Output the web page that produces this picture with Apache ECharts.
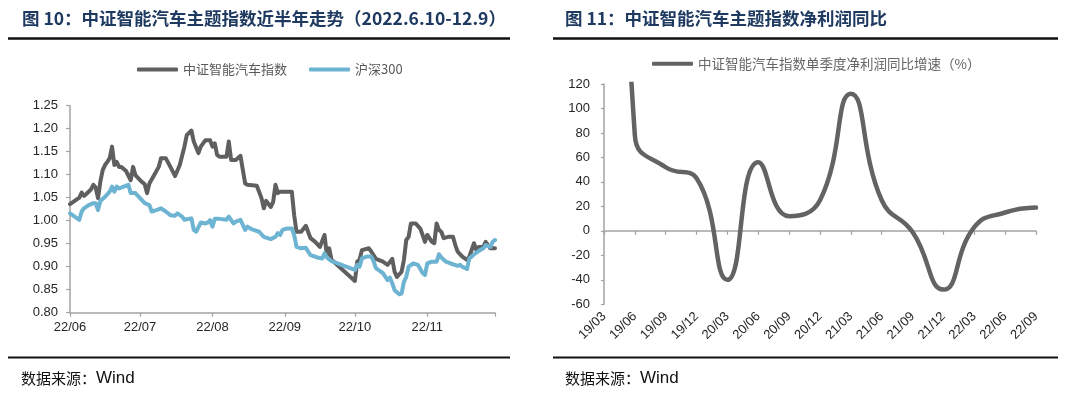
<!DOCTYPE html>
<html><head><meta charset="utf-8">
<script src="https://cdn.jsdelivr.net/npm/echarts@6/dist/echarts.min.js"></script>
<style>html,body{margin:0;padding:0;background:#fff}#c{width:1080px;height:396px}</style>
</head><body><div id="c"></div>
<script>
// ---- Figure 10: daily index levels (2022), month-day of each reading ----
const idxDates = ['06-10','06-12','06-14','06-15','06-16','06-17','06-19','06-20','06-21','06-22','06-23','06-24','06-25','06-26','06-27','06-28','06-29','06-30','07-01','07-02','07-04','07-06','07-07','07-08','07-10','07-12','07-13','07-14','07-16','07-18','07-19','07-21','07-23','07-25','07-27','07-29','07-30','08-01','08-02','08-04','08-05','08-07','08-09','08-10','08-11','08-12','08-13','08-16','08-17','08-18','08-20','08-22','08-24','08-25','08-29','08-31','09-01','09-02','09-04','09-05','09-06','09-07','09-08','09-13','09-14','09-15','09-17','09-19','09-21','09-23','09-25','09-27','09-28','09-29','09-30','10-10','10-11','10-12','10-13','10-16','10-17','10-19','10-22','10-24','10-26','10-27','10-28','10-30','10-31','11-01','11-02','11-03','11-05','11-07','11-08','11-09','11-10','11-12','11-13','11-14','11-15','11-16','11-17','11-19','11-21','11-22','11-23','11-25','11-27','11-28','11-30','12-01','12-02','12-04','12-05','12-07','12-09'];
const idxValues = [1.036,1.043,1.050,1.061,1.054,1.058,1.068,1.078,1.072,1.049,1.085,1.110,1.121,1.128,1.136,1.161,1.121,1.128,1.117,1.117,1.108,1.088,1.117,1.099,1.088,1.079,1.060,1.081,1.099,1.117,1.136,1.136,1.117,1.097,1.121,1.161,1.186,1.196,1.172,1.147,1.161,1.175,1.175,1.161,1.168,1.143,1.139,1.139,1.172,1.132,1.132,1.141,1.081,1.078,1.076,1.049,1.027,1.043,1.030,1.041,1.078,1.060,1.063,1.063,1.012,0.976,0.976,0.989,0.962,0.954,0.943,0.969,0.925,0.940,0.915,0.869,0.911,0.915,0.936,0.940,0.933,0.917,0.911,0.904,0.917,0.889,0.878,0.889,0.915,0.958,0.965,0.994,0.994,0.983,0.969,0.954,0.969,0.954,0.951,0.994,0.980,0.976,0.962,0.965,0.965,0.947,0.933,0.922,0.915,0.922,0.951,0.936,0.943,0.943,0.954,0.940,0.940];
const hsDates = ['06-10','06-12','06-14','06-15','06-16','06-18','06-20','06-21','06-22','06-23','06-25','06-27','06-28','06-29','06-30','07-01','07-03','07-05','07-06','07-08','07-10','07-12','07-14','07-15','07-17','07-19','07-21','07-23','07-25','07-26','07-28','07-29','08-01','08-02','08-03','08-05','08-07','08-08','08-09','08-10','08-11','08-13','08-16','08-17','08-19','08-20','08-22','08-24','08-25','08-27','08-30','09-01','09-04','09-06','09-07','09-08','09-09','09-11','09-13','09-14','09-15','09-17','09-19','09-21','09-24','09-26','09-27','09-28','09-30','10-10','10-11','10-12','10-13','10-15','10-17','10-18','10-19','10-22','10-24','10-25','10-26','10-27','10-29','10-30','10-31','11-01','11-02','11-04','11-06','11-08','11-09','11-10','11-12','11-14','11-15','11-16','11-18','11-20','11-23','11-24','11-25','11-27','11-28','11-29','11-30','12-02','12-04','12-05','12-07','12-08','12-09'];
const hsValues = [1.016,1.009,1.002,1.020,1.027,1.034,1.038,1.038,1.023,1.043,1.052,1.063,1.074,1.063,1.074,1.070,1.074,1.078,1.060,1.060,1.049,1.038,1.034,1.020,1.023,1.027,1.020,1.012,1.011,1.016,1.009,1.002,1.005,0.980,0.976,0.996,0.994,0.996,1.001,0.987,1.004,1.004,1.002,1.009,0.994,0.998,1.002,0.980,0.987,0.981,0.976,0.965,0.960,0.965,0.973,0.969,0.980,0.983,0.983,0.969,0.943,0.940,0.941,0.925,0.920,0.918,0.929,0.920,0.912,0.893,0.904,0.900,0.918,0.922,0.922,0.912,0.897,0.886,0.871,0.876,0.864,0.849,0.840,0.842,0.867,0.878,0.900,0.907,0.904,0.886,0.882,0.907,0.911,0.911,0.927,0.920,0.911,0.907,0.902,0.904,0.900,0.895,0.918,0.922,0.927,0.934,0.940,0.947,0.943,0.954,0.958];
const YEAR = '2022';
const monthLabelDates = ['2022-06-10','2022-07-10','2022-08-10','2022-09-10','2022-10-10','2022-11-10'];
const axisStart = '2022-06-10';
const axisEnd = '2022-12-09';

// ---- Figure 11: quarterly YoY growth of net profit (%) ----
const qCats = ['19/03','19/06','19/09','19/12','20/03','20/06','20/09','20/12','21/03','21/06','21/09','21/12','22/03','22/06','22/09'];
const qValues = [800, 78, 52, 43, -40, 56, 12, 25, 112, 25, -1, -48, 3, 15, 19];

function ts(s){ const p = s.split('-').map(Number); return new Date(p[0], p[1]-1, p[2]).getTime(); }
function pairs(dates, vals){ return dates.map((d, i) => [ts(YEAR + '-' + d), vals[i]]); }
function ym(v){ const d = new Date(v); return String(d.getFullYear()).slice(2) + '/' + String(d.getMonth()+1).padStart(2,'0'); }

const CJK = '"Noto Sans CJK SC", sans-serif';
const NUM = '"Liberation Sans", Arial, sans-serif';
const AX = '#a3a3a3';
const titleStyle = {fontFamily: CJK, fontSize: 17.5, fontWeight: 'bold', color: '#1f3a60'};
const srcStyle = {fontWeight: 'normal', rich: {a: {fontFamily: CJK, fontSize: 15, fontWeight: 'normal', color: '#111'}, b: {fontFamily: NUM, fontSize: 17, fontWeight: 'normal', color: '#111'}}};

const chart = echarts.init(document.getElementById('c'), null, {renderer: 'canvas'});
chart.setOption({
  animation: false,
  backgroundColor: '#fff',
  title: [
    {text: '图 10：中证智能汽车主题指数近半年走势（2022.6.10-12.9）', left: 22, top: 10, padding: 0, textStyle: titleStyle},
    {text: '图 11：中证智能汽车主题指数净利润同比', left: 565, top: 10, padding: 0, textStyle: titleStyle},
    {text: '{a|数据来源：}{b|Wind}', left: 21, top: 370, padding: 0, textStyle: srcStyle},
    {text: '{a|数据来源：}{b|Wind}', left: 565, top: 370, padding: 0, textStyle: srcStyle}
  ],
  graphic: [
    {type: 'line', shape: {x1: 8, y1: 38.5, x2: 510, y2: 38.5}, style: {stroke: '#111', lineWidth: 2.5}},
    {type: 'line', shape: {x1: 553, y1: 38.5, x2: 1058, y2: 38.5}, style: {stroke: '#111', lineWidth: 2.5}},
    {type: 'line', shape: {x1: 8, y1: 357.5, x2: 510, y2: 357.5}, style: {stroke: '#111', lineWidth: 2}},
    {type: 'line', shape: {x1: 553, y1: 357.5, x2: 1058, y2: 357.5}, style: {stroke: '#111', lineWidth: 2}}
  ],
  legend: [
    {data: ['中证智能汽车指数', '沪深300'], left: 132, top: 58, icon: 'roundRect', itemWidth: 41, itemHeight: 4, itemGap: 22, selectedMode: false,
     textStyle: {fontFamily: CJK, fontSize: 13, color: '#595959'}},
    {data: ['中证智能汽车指数单季度净利润同比增速（%）'], left: 647, top: 52, icon: 'roundRect', itemWidth: 41, itemHeight: 4, selectedMode: false,
     textStyle: {fontFamily: CJK, fontSize: 13.5, color: '#666'}}
  ],
  grid: [
    {left: 70, top: 105.7, width: 425, height: 207},
    {left: 604, top: 84, width: 432, height: 220.3}
  ],
  xAxis: [
    {type: 'value', gridIndex: 0, min: ts(axisStart), max: ts(axisEnd), scale: true,
     axisLine: {lineStyle: {color: AX, width: 1.5}},
     axisTick: {show: true, length: 4, lineStyle: {color: AX, width: 1.2}, customValues: monthLabelDates.concat([axisEnd]).map(ts)},
     axisLabel: {customValues: monthLabelDates.map(ts), formatter: ym, fontFamily: NUM, fontSize: 13, color: '#262626', margin: 8},
     splitLine: {show: false}},
    {type: 'category', gridIndex: 1, data: qCats, boundaryGap: false,
     axisLine: {onZero: true, lineStyle: {color: AX, width: 1.5}},
     axisTick: {show: true, length: 4, interval: 0, lineStyle: {color: AX, width: 1.2}},
     axisLabel: {show: false}},
    {type: 'category', gridIndex: 1, data: qCats, boundaryGap: false, position: 'bottom',
     axisLine: {show: false, onZero: false}, axisTick: {show: false},
     axisLabel: {interval: 0, rotate: 45, fontFamily: NUM, fontSize: 13, color: '#262626', margin: 10}}
  ],
  yAxis: [
    {type: 'value', gridIndex: 0, min: 0.8, max: 1.25, interval: 0.05,
     axisLine: {show: true, lineStyle: {color: AX, width: 1.5}},
     axisTick: {show: true, length: 4, lineStyle: {color: AX, width: 1.2}},
     axisLabel: {formatter: v => v.toFixed(2), fontFamily: NUM, fontSize: 13, color: '#262626', margin: 12},
     splitLine: {show: false}},
    {type: 'value', gridIndex: 1, min: -60, max: 120, interval: 20,
     axisLine: {show: true, lineStyle: {color: AX, width: 1.5}},
     axisTick: {show: true, length: 3, lineStyle: {color: AX, width: 1.2}},
     axisLabel: {fontFamily: NUM, fontSize: 13, color: '#262626', margin: 14},
     splitLine: {show: false}}
  ],
  series: [
    {name: '中证智能汽车指数', type: 'line', xAxisIndex: 0, yAxisIndex: 0, data: pairs(idxDates, idxValues),
     symbol: 'none', color: '#5f5f5f', lineStyle: {width: 4, color: '#5f5f5f', join: 'round', cap: 'round'}},
    {name: '沪深300', type: 'line', xAxisIndex: 0, yAxisIndex: 0, data: pairs(hsDates, hsValues),
     symbol: 'none', color: '#6db3d2', lineStyle: {width: 4, color: '#6db3d2', join: 'round', cap: 'round'}},
    {name: '中证智能汽车指数单季度净利润同比增速（%）', type: 'line', xAxisIndex: 1, yAxisIndex: 1, data: qValues,
     smooth: 0.5, symbol: 'none', clip: true, color: '#636363', lineStyle: {width: 4.5, color: '#636363', cap: 'round'}}
  ]
});
</script></body></html>
